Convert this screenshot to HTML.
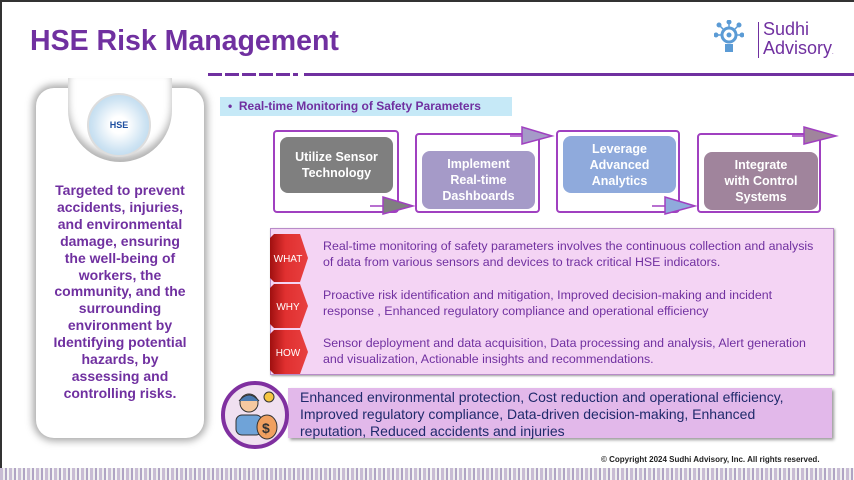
<!DOCTYPE html>
<html><head><meta charset="utf-8"><style>
*{margin:0;padding:0;box-sizing:border-box}
body{width:854px;height:480px;overflow:hidden;background:#fff;font-family:"Liberation Sans",sans-serif;position:relative}
.a{position:absolute}
.title{left:30px;top:25px;font-size:28.5px;font-weight:bold;color:#7030a0}
.card{left:36px;top:88px;width:168px;height:350px;border-radius:18px;background:#fff;box-shadow:0 0 8px 3px rgba(0,0,0,.35)}
.ctext{left:38px;top:182px;width:164px;text-align:center;font-size:14px;font-weight:bold;color:#7030a0;line-height:16.9px}
.frame{border:2px solid #a040c0;border-radius:4px;background:#fff}
.inner{border-radius:8px;color:#fff;font-weight:bold;font-size:12.5px;text-align:center;display:flex;align-items:center;justify-content:center;line-height:16px}
.ptxt{left:323px;font-size:12.4px;color:#7030a0;line-height:16px}
</style></head><body>
<div class="a" style="left:0;top:0;width:854px;height:2px;background:#333"></div>
<div class="a" style="left:0;top:0;width:2px;height:480px;background:#333"></div>
<div class="a title">HSE Risk Management</div>
<div class="a" style="left:208px;top:73px;width:90px;height:3px;background:repeating-linear-gradient(90deg,#7030a0 0 14px,#fff 14px 17px)"></div>
<div class="a" style="left:304px;top:73px;width:550px;height:3px;background:#7030a0"></div>
<svg class="a" style="left:714px;top:20px" width="30" height="38" viewBox="0 0 30 38"><g fill="#5b9bd5" stroke="#5b9bd5"><circle cx="15" cy="15" r="7" fill="none" stroke-width="3"/><circle cx="15" cy="15" r="2"/><rect x="11" y="24" width="8" height="8" stroke="none"/><g stroke-width="1.5"><line x1="15" y1="8" x2="15" y2="2"/><line x1="8" y1="15" x2="2" y2="15"/><line x1="22" y1="15" x2="28" y2="15"/><line x1="10" y1="10" x2="5" y2="5"/><line x1="20" y1="10" x2="25" y2="5"/></g><circle cx="15" cy="2" r="2"/><circle cx="2" cy="15" r="2"/><circle cx="28" cy="15" r="2"/><circle cx="5" cy="5" r="2"/><circle cx="25" cy="5" r="2"/></g></svg>
<div class="a" style="left:758px;top:22px;width:1px;height:36px;background:#7030a0"></div>
<div class="a" style="left:763px;top:20px;font-size:18px;color:#7030a0;line-height:19px">Sudhi<br>Advisory<span style="font-size:6px">.</span></div>

<div class="a card"></div>
<div class="a" style="left:68px;top:78px;width:104px;height:84px;background:#fff;border-radius:0 0 52px 52px;box-shadow:inset 0 -6px 8px rgba(0,0,0,.3)"></div>
<div class="a" style="left:87px;top:93px;width:64px;height:64px;border-radius:50%;background:radial-gradient(circle,#fff 20%,#cfe4f3 60%,#a9cfe9);border:2px solid #ddd;display:flex;align-items:center;justify-content:center;font-size:9px;font-weight:bold;color:#1f4fa0">HSE</div>
<div class="a ctext">Targeted to prevent<br>accidents, injuries,<br>and environmental<br>damage, ensuring<br>the well-being of<br>workers, the<br>community, and the<br>surrounding<br>environment by<br>Identifying potential<br>hazards, by<br>assessing and<br>controlling risks.</div>

<div class="a" style="left:220px;top:97px;width:292px;height:19px;background:#c6e9f7"></div>
<div class="a" style="left:228px;top:99px;font-size:12px;font-weight:bold;color:#7030a0">•&nbsp; Real-time Monitoring of Safety Parameters</div>

<div class="a frame" style="left:273px;top:130px;width:126px;height:83px"></div>
<div class="a inner" style="left:280px;top:137px;width:113px;height:56px;background:#7f7f7f">Utilize Sensor<br>Technology</div>
<div class="a frame" style="left:415px;top:133px;width:125px;height:80px"></div>
<div class="a inner" style="left:422px;top:151px;width:113px;height:58px;background:#a59ac8">Implement<br>Real-time<br>Dashboards</div>
<div class="a frame" style="left:556px;top:130px;width:124px;height:83px"></div>
<div class="a inner" style="left:563px;top:136px;width:113px;height:57px;background:#8faadc">Leverage<br>Advanced<br>Analytics</div>
<div class="a frame" style="left:697px;top:133px;width:124px;height:80px"></div>
<div class="a inner" style="left:704px;top:152px;width:114px;height:58px;background:#a0849c">Integrate<br>with Control<br>Systems</div>
<svg class="a" style="left:0;top:0" width="854" height="240">
<g stroke="#a040c0" stroke-width="1.5">
<line x1="370" y1="206" x2="385" y2="206"/><polygon points="383,197 383,214 413,206" fill="#7f7f7f"/>
<line x1="510" y1="136" x2="524" y2="136"/><polygon points="522,127 522,144 552,136" fill="#a59ac8"/>
<line x1="652" y1="206" x2="667" y2="206"/><polygon points="665,197 665,214 695,206" fill="#8faadc"/>
<line x1="792" y1="136" x2="806" y2="136"/><polygon points="804,127 804,144 836,136" fill="#a0849c"/>
</g></svg>

<div class="a" style="left:270px;top:228px;width:564px;height:147px;background:#f4d4f4;border:1px solid #b88bc8;box-shadow:1px 1px 2px #999"></div>
<svg class="a" style="left:268px;top:228px" width="44" height="150">
<defs><linearGradient id="r" x1="0" x2="1"><stop offset="0" stop-color="#a01010"/><stop offset=".4" stop-color="#e03030"/><stop offset="1" stop-color="#e84040"/></linearGradient></defs>
<polygon points="6,6 32,6 40,30 32,54 6,54 2,50 2,10" fill="url(#r)"/>
<polygon points="6,56 32,56 40,78 32,100 6,100 2,96 2,60" fill="url(#r)"/>
<polygon points="6,102 32,102 40,124 32,146 6,146 2,142 2,106" fill="url(#r)"/>
<text x="20" y="34" font-size="10" fill="#fff" text-anchor="middle" font-family="Liberation Sans">WHAT</text>
<text x="20" y="82" font-size="10" fill="#fff" text-anchor="middle" font-family="Liberation Sans">WHY</text>
<text x="20" y="128" font-size="10" fill="#fff" text-anchor="middle" font-family="Liberation Sans">HOW</text>
</svg>
<div class="a ptxt" style="top:238px">Real-time monitoring of safety parameters involves the continuous collection and analysis<br>of data from various sensors and devices to track critical HSE indicators.</div>
<div class="a ptxt" style="top:287px">Proactive risk identification and mitigation, Improved decision-making and incident<br>response , Enhanced regulatory compliance and operational efficiency</div>
<div class="a ptxt" style="top:335px">Sensor deployment and data acquisition, Data processing and analysis, Alert generation<br>and visualization, Actionable insights and recommendations.</div>

<div class="a" style="left:288px;top:388px;width:544px;height:50px;background:#e2b8ea;box-shadow:2px 2px 3px #999"></div>
<div class="a" style="left:221px;top:381px;width:68px;height:68px;border-radius:50%;background:#f0e0f0;border:4px solid #8030a0"></div>
<svg class="a" style="left:231px;top:389px" width="50" height="52"><circle cx="18" cy="14" r="9" fill="#f5c9a0" stroke="#333"/><path d="M8 12 Q18 0 28 12" fill="#4a7ab0" stroke="#333"/><rect x="5" y="26" width="26" height="20" rx="6" fill="#6fa3d8" stroke="#333"/><circle cx="38" cy="8" r="5" fill="#f5c542" stroke="#333"/><ellipse cx="36" cy="38" rx="10" ry="12" fill="#f0a060" stroke="#333"/><text x="31" y="44" font-size="14" font-weight="bold" fill="#333" font-family="Liberation Sans">$</text></svg>
<div class="a" style="left:300px;top:389px;font-size:14px;color:#1f2a6b;line-height:17px">Enhanced environmental protection, Cost reduction and operational efficiency,<br>Improved regulatory compliance, Data-driven decision-making, Enhanced<br>reputation, Reduced accidents and injuries</div>

<div class="a" style="left:601px;top:455px;font-size:8px;font-weight:bold;color:#222">© Copyright 2024 Sudhi Advisory, Inc. All rights reserved.</div>
<div class="a" style="left:0;top:468px;width:854px;height:12px;background:repeating-linear-gradient(90deg,#c8bcd4 0 3px,#eee 3px 5px,#b0a4c4 5px 7px,#f4f4f4 7px 9px)"></div>
</body></html>
